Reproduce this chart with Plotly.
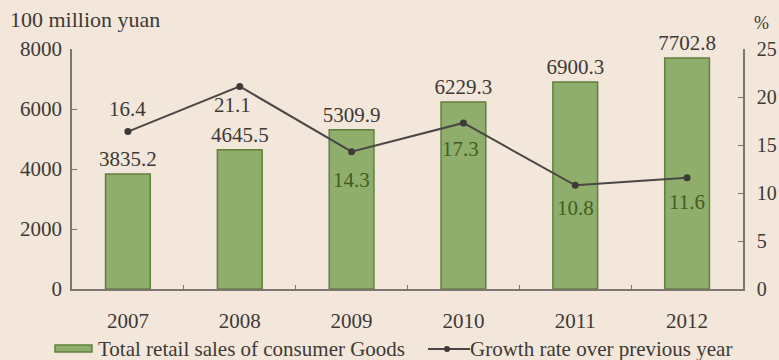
import plotly.graph_objects as go

years = ["2007", "2008", "2009", "2010", "2011", "2012"]
retail_sales = [3835.2, 4645.5, 5309.9, 6229.3, 6900.3, 7702.8]
growth_rate = [16.4, 21.1, 14.3, 17.3, 10.8, 11.6]
left_ticks = [0, 2000, 4000, 6000, 8000]
right_ticks = [0, 5, 10, 15, 20, 25]

bg = "#f3e6da"
ink = "#3d3936"
axis_col = "#7d7670"
bar_fill = "#8fae6b"
bar_edge = "#60803e"
label_green = "#3f5d22"
line_col = "#4a4646"
FONT = "Liberation Serif"
FS = 21

fig = go.Figure()

fig.add_trace(go.Bar(
    x=years, y=retail_sales,
    name="Total retail sales of consumer Goods",
    marker=dict(color=bar_fill, line=dict(color=bar_edge, width=1.5)),
    text=[f"{v:.1f}" for v in retail_sales],
    textposition="outside",
    constraintext="none",
    textfont=dict(color=ink, size=FS),
    cliponaxis=False,
    showlegend=False,
    yaxis="y",
))

fig.add_trace(go.Scatter(
    x=years, y=growth_rate,
    name="Growth rate over previous year",
    mode="lines+markers",
    line=dict(color=line_col, width=2),
    marker=dict(color="#3e3a3a", size=7),
    cliponaxis=False,
    showlegend=False,
    yaxis="y2",
))

# value labels for the growth line, nudged off the markers
# (category position given by index so the year strings are not read as numbers)
label_shift = [(0, 23), (-7, -19), (0, -28), (-3, -26), (0, -23), (0, -24)]
label_color = [ink, ink, label_green, label_green, label_green, label_green]
annotations = []
for i, (g, (dx, dy), c) in enumerate(zip(growth_rate, label_shift, label_color)):
    annotations.append(dict(
        x=i, y=g, xref="x", yref="y2", text=f"{g:.1f}", showarrow=False,
        xshift=dx, yshift=dy, font=dict(size=FS, color=c, family=FONT),
    ))

# axis titles
annotations += [
    dict(text="100 million yuan", xref="paper", yref="paper", x=-0.0954, y=1.121,
         xanchor="left", yanchor="middle", showarrow=False, font=dict(size=22)),
    dict(text="%", xref="paper", yref="paper", x=1.027, y=1.11,
         xanchor="center", yanchor="middle", showarrow=False, font=dict(size=18)),
]

# legend drawn below the axis
leg_y = -0.25
annotations += [
    dict(text="Total retail sales of consumer Goods", xref="paper", yref="paper",
         x=0.0358, y=leg_y, xanchor="left", yanchor="middle", showarrow=False,
         font=dict(size=FS)),
    dict(text="Growth rate over previous year", xref="paper", yref="paper",
         x=0.590, y=leg_y, xanchor="left", yanchor="middle", showarrow=False,
         font=dict(size=FS)),
]
shapes = [
    dict(type="rect", xref="paper", yref="paper", x0=-0.0253, x1=0.0298,
         y0=-0.2625, y1=-0.2333, fillcolor=bar_fill, line=dict(color=bar_edge, width=1.5)),
    dict(type="line", xref="paper", yref="paper", x0=0.5306, x1=0.5931,
         y0=leg_y, y1=leg_y, line=dict(color=line_col, width=2)),
    dict(type="circle", xref="paper", yref="paper", x0=0.5589 - 0.0045, x1=0.5589 + 0.0045,
         y0=leg_y - 0.0125, y1=leg_y + 0.0125, fillcolor="#3e3a3a", line=dict(width=0)),
]

fig.update_layout(
    width=779, height=360,
    margin=dict(l=72, r=36, t=49, b=71, autoexpand=False),
    paper_bgcolor=bg, plot_bgcolor=bg,
    font=dict(family=FONT, size=FS, color=ink),
    bargap=0.6,
    showlegend=False,
    xaxis=dict(type="category", categoryarray=years, range=[-0.5, len(years) - 0.5],
               showline=True, linecolor=axis_col, linewidth=1.5,
               ticks="inside", tickson="boundaries", ticklen=4, tickcolor=axis_col,
               showgrid=False, tickfont=dict(size=FS), ticklabelstandoff=12),
    yaxis=dict(range=[0, 8000], tickvals=left_ticks, showline=True, linecolor=axis_col,
               linewidth=1.5, ticks="inside", ticklen=5, tickcolor=axis_col,
               showgrid=False, zeroline=False, tickfont=dict(size=FS), ticklabelstandoff=4),
    yaxis2=dict(range=[0, 25], tickvals=right_ticks, overlaying="y", side="right",
                showline=True, linecolor=axis_col, linewidth=1.5, ticks="inside",
                ticklen=5, tickcolor=axis_col, showgrid=False, zeroline=False,
                tickfont=dict(size=20), ticklabelstandoff=8),
    annotations=annotations,
    shapes=shapes,
)

fig.write_html("out.html")
